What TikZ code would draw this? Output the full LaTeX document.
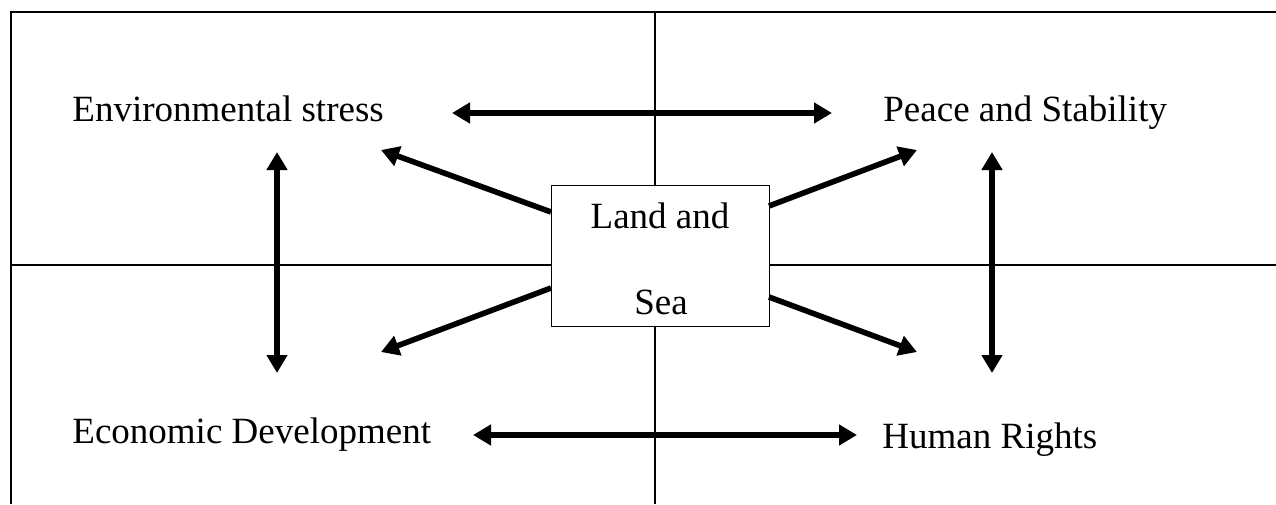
\documentclass[tikz,border=0pt]{standalone}
\usepackage{fontspec}
\setmainfont{Liberation Serif}
\usepackage{tikz}
\usetikzlibrary{arrows.meta}

\begin{document}
\begin{tikzpicture}[x=0.5pt, y=-0.5pt,
  frame/.style={line width=0.7pt},
  twoway/.style={line width=2.8pt, {Triangle[length=9pt,width=10pt]}-{Triangle[length=9pt,width=10pt]}},
  oneway/.style={line width=2.8pt, -{Triangle[length=9pt,width=10pt]}},
  txt/.style={anchor=base west, inner sep=0pt, font=\fontsize{18.5}{22}\selectfont}]
\useasboundingbox (0,0) rectangle (1276,504);
% table lines
\draw[frame] (11,504) -- (11,12) -- (1276,12);
\draw[frame] (655,12) -- (655,504);
\draw[frame] (11,265) -- (1276,265);
% centre box
\node[draw, fill=white, line width=0.5pt, minimum width=109pt, minimum height=70.5pt, inner sep=0pt] (box) at (660,255.5) {};
\node[txt, anchor=base] (land) at (660,228) {Land and};
\node[txt, anchor=base] (sea) at (661,314) {Sea};
% the four labels
\node[txt] (env) at (72,121) {Environmental stress};
\node[txt] (peace) at (883,121) {Peace and Stability};
\node[txt] (econ) at (72,443) {Economic Development};
\node[txt] (human) at (882,448) {Human Rights};
% arrow ends
\coordinate (env-r) at (452,113);
\coordinate (peace-l) at (832,113);
\coordinate (econ-r) at (473,435);
\coordinate (human-l) at (857,435);
\coordinate (env-d) at (277,152);
\coordinate (econ-u) at (277,373);
\coordinate (peace-d) at (992,152);
\coordinate (human-u) at (992,373);
\coordinate (box-nw) at (551,212);
\coordinate (box-sw) at (551,288);
\coordinate (box-ne) at (769,206);
\coordinate (box-se) at (769,297);
\coordinate (to-env) at (381,150);
\coordinate (to-econ) at (381,352);
\coordinate (to-peace) at (917,150);
\coordinate (to-human) at (917,352);
\draw[twoway] (env-r) -- (peace-l);
\draw[twoway] (econ-r) -- (human-l);
\draw[twoway] (env-d) -- (econ-u);
\draw[twoway] (peace-d) -- (human-u);
\draw[oneway] (box-nw) -- (to-env);
\draw[oneway] (box-sw) -- (to-econ);
\draw[oneway] (box-ne) -- (to-peace);
\draw[oneway] (box-se) -- (to-human);
\end{tikzpicture}
\end{document}
